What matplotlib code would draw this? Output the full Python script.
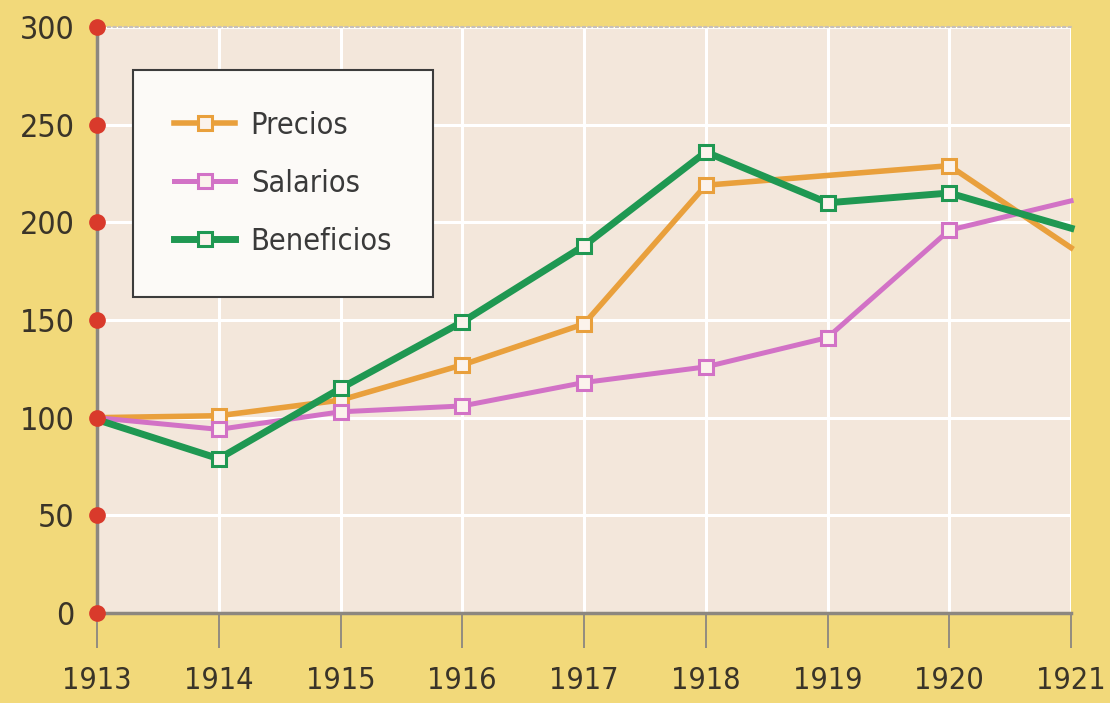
import matplotlib.pyplot as plt
from matplotlib import font_manager

years = [1913, 1914, 1915, 1916, 1917, 1918, 1919, 1920, 1921]
precios_years = [1913, 1914, 1915, 1916, 1917, 1918, 1920, 1921]
precios = [100, 101, 109, 127, 148, 219, 229, 187]
salarios = [100, 94, 103, 106, 118, 126, 141, 196, 211]
beneficios = [99, 79, 115, 149, 188, 236, 210, 215, 197]
yticks = [0, 50, 100, 150, 200, 250, 300]

# look for a narrow face, the reference uses a condensed sans
narrow = [f for f in font_manager.fontManager.ttflist
          if ('Narrow' in f.name or 'Condensed' in f.name
              or f.stretch in ('condensed', 'semi-condensed'))
          and f.style == 'normal' and f.weight in (400, 'normal', 'regular')]
if narrow:
    plt.rcParams['font.family'] = [narrow[0].name, 'DejaVu Sans']
    plt.rcParams['font.stretch'] = narrow[0].stretch
else:
    plt.rcParams['font.family'] = ['Roboto', 'DejaVu Sans']

fig = plt.figure(figsize=(11.1, 7.03), dpi=100, facecolor='#F2D97A')
ax = fig.add_axes([0.0874, 0.128, 0.8775, 0.8336])
ax.set_facecolor('#F3E7DB')

def draw(xs, ys, color, lw, label):
    ax.plot(xs, ys, color=color, lw=lw, marker='s', ms=10, mew=2.2,
            mfc='#FBF3EC', mec=color, markevery=list(range(1, len(xs) - 1)),
            label=label, clip_on=False, zorder=3)

draw(precios_years, precios, '#E9A03C', 4, 'Precios')
draw(years, salarios, '#D272C6', 3.6, 'Salarios')
draw(years, beneficios, '#1F9852', 5, 'Beneficios')

ax.set_xlim(1913, 1921)
ax.set_ylim(0, 300)
ax.set_xticks(years)
ax.set_yticks(yticks)
ax.grid(True, color='white', lw=2.2, zorder=0)
ax.set_axisbelow(True)

ax.spines['right'].set_visible(False)
ax.spines['top'].set_color('#C8C0B8')
ax.spines['top'].set_linestyle(':')
ax.spines['top'].set_linewidth(1.5)
for s in ['left', 'bottom']:
    ax.spines[s].set_color('#8C8780')
    ax.spines[s].set_linewidth(2.5)

ax.tick_params(axis='x', direction='out', length=25, width=1.3, color='#8C8780',
               pad=13, labelsize=22, labelcolor='#3A3428')
ax.tick_params(axis='y', length=0, pad=16, labelsize=23, labelcolor='#3A3428')

# red dots on y ticks
ax.plot([1913] * len(yticks), yticks, 'o', color='#D93A2B', ms=11,
        clip_on=False, zorder=5)

leg = ax.legend(loc='upper left', bbox_to_anchor=(0.037, 0.927), borderaxespad=0,
                fontsize=22, frameon=True, fancybox=False, handlelength=2.0,
                handletextpad=0.5, borderpad=1.35, labelspacing=0.95)
leg.get_frame().set_edgecolor('#3C3C3C')
leg.get_frame().set_linewidth(1.5)
leg.get_frame().set_facecolor('#FCFAF7')
leg.get_frame().set_alpha(1)
for t in leg.get_texts():
    t.set_color('#3A3A3A')

fig.savefig('out.png', dpi=100, facecolor=fig.get_facecolor())
